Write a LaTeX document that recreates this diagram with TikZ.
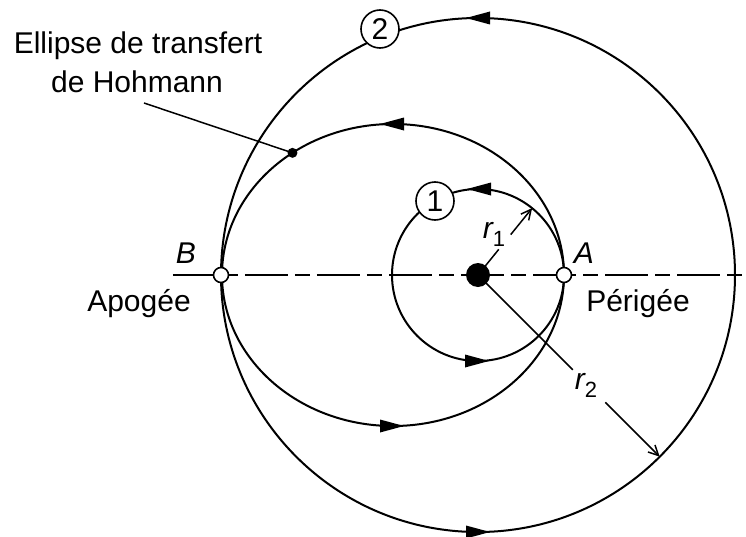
\documentclass[tikz,border=0pt]{standalone}
\usepackage{fontspec}
\setmainfont{Liberation Sans}
\usetikzlibrary{arrows.meta}
\newcommand\orbTipL[2]{\fill (#1-12,#2) -- (#1+12,#2+6.5) -- (#1+12,#2-6.5) -- cycle;}
\newcommand\orbTipR[2]{\fill (#1+12,#2) -- (#1-12,#2+6.5) -- (#1-12,#2-6.5) -- cycle;}
\begin{document}
\begin{tikzpicture}[x=1pt,y=1pt,
  orbit/.style={line width=2pt},
  radline/.style={line width=1.5pt},
  barb/.style={radline,-{Straight Barb[length=10pt,width=10pt,line width=1.5pt]}},
  lbl/.style={inner sep=0pt,font=\fontsize{30}{36}\selectfont},
  numcirc/.style={circle,draw,line width=1.6pt,fill=white,minimum size=38pt,inner sep=0pt,font=\fontsize{30}{36}\selectfont},
  openpt/.style={circle,draw,line width=1.6pt,fill=white,minimum size=15pt,inner sep=0pt},
  soliddot/.style={circle,fill=black,inner sep=0pt}
]
\useasboundingbox (-478,-261) rectangle (268,275);
\coordinate (O) at (0,0);
% orbits
\draw[orbit] (O) circle[radius=257];
\draw[orbit] (-85,0) ellipse[x radius=171, y radius=151];
\draw[orbit] (O) circle[radius=86];
% axis
\coordinate (axL) at (-305,0);
\coordinate (axR) at (268,0);
\draw[line width=1.6pt,dash pattern=on 43pt off 7pt on 15pt off 7pt] (axL) -- (axR);
% radii
\coordinate (r1a) at (51:33);
\coordinate (r1b) at (51:52);
\coordinate (r1c) at (51:86);
\coordinate (r2a) at (-45:134);
\coordinate (r2b) at (-45:180);
\coordinate (r2c) at (-45:257);
\draw[radline] (O) -- (r1a);
\draw[barb] (r1b) -- (r1c);
\draw[radline] (O) -- (r2a);
\draw[barb] (r2b) -- (r2c);
% points
\node[soliddot,minimum size=24pt] (earth) at (O) {};
\node[openpt] (A) at (86,0) {};
\node[openpt] (B) at (-257,0) {};
\node[soliddot,minimum size=10pt] (edot) at ({-85+171*cos(126)},{151*sin(126)}) {};
% circled numbers
\node[numcirc] (n1) at (-43,74) {1};
\node[numcirc] (n2) at (-98,246) {2};
% direction arrows
\orbTipL{0}{257}
\orbTipL{-86}{151}
\orbTipL{1}{86}
\orbTipR{0}{-257}
\orbTipR{-86}{-151}
\orbTipR{-1}{-86}
% labels
\node[lbl,anchor=base,font=\fontsize{30}{36}\selectfont\itshape] (lB) at (-292,12) {B};
\node[lbl,anchor=base,font=\fontsize{30}{36}\selectfont\itshape] (lA) at (106,12) {A};
\node[lbl,anchor=base] (apo) at (-339,-36) {Apogée};
\node[lbl,anchor=base] (peri) at (160,-36) {Périgée};
\node[lbl,anchor=base] (ell1) at (-340,222) {Ellipse de transfert};
\node[lbl,anchor=base] (ell2) at (-341,183) {de Hohmann};
\node[lbl] (lr1) at (16,41) {\itshape r\raisebox{-8pt}{\upshape\fontsize{22}{22}\selectfont 1}};
\node[lbl] (lr2) at (108,-110) {\itshape r\raisebox{-8pt}{\upshape\fontsize{22}{22}\selectfont 2}};
% leader
\coordinate (lead) at (-334,172);
\draw[radline] (lead) -- (edot.center);
\end{tikzpicture}
\end{document}
